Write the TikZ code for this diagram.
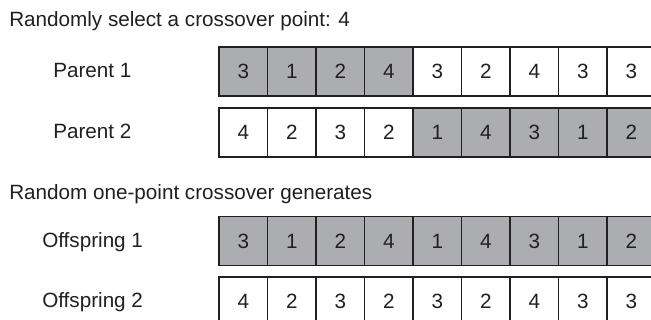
\documentclass[tikz,border=0pt]{standalone}
\usepackage{fontspec}
\setmainfont{Liberation Sans}
\definecolor{cellgray}{RGB}{172,173,176}
\definecolor{ink}{RGB}{35,31,32}
\begin{document}
\begin{tikzpicture}[x=0.75pt,y=-0.75pt,
  font=\fontsize{15.5}{18}\selectfont,
  cell/.style={draw=ink, line width=1.1pt, minimum width=36.375pt, minimum height=36.75pt,
    inner sep=0pt, outer sep=0pt, anchor=center, text=ink},
  shaded/.style={cell, fill=cellgray},
  plain/.style={cell, fill=white},
  lbl/.style={anchor=base west, inner sep=0pt, text=ink}]
\useasboundingbox (0,0) rectangle (651,320);
\node[lbl] (t1) at (9,27) {Randomly select a crossover point: 4};
\node[lbl] (t2) at (9,200) {Random one-point crossover generates};
\node[lbl] (l1) at (53,78) {Parent 1};
\node[lbl] (l2) at (53,139) {Parent 2};
\node[lbl] (l3) at (42,248) {Offspring 1};
\node[lbl] (l4) at (42,308) {Offspring 2};
\foreach \v/\s [count=\i] in {3/shaded,1/shaded,2/shaded,4/shaded,3/plain,2/plain,4/plain,3/plain,3/plain}
  \node[\s] (pa\i) at ({219+48.5*(\i-0.5)},71.5) {\v};
\foreach \v/\s [count=\i] in {4/plain,2/plain,3/plain,2/plain,1/shaded,4/shaded,3/shaded,1/shaded,2/shaded}
  \node[\s] (pb\i) at ({219+48.5*(\i-0.5)},132.5) {\v};
\foreach \v/\s [count=\i] in {3/shaded,1/shaded,2/shaded,4/shaded,1/shaded,4/shaded,3/shaded,1/shaded,2/shaded}
  \node[\s] (oa\i) at ({219+48.5*(\i-0.5)},241) {\v};
\foreach \v/\s [count=\i] in {4/plain,2/plain,3/plain,2/plain,3/plain,2/plain,4/plain,3/plain,3/plain}
  \node[\s] (ob\i) at ({219+48.5*(\i-0.5)},301.5) {\v};
\end{tikzpicture}
\end{document}
